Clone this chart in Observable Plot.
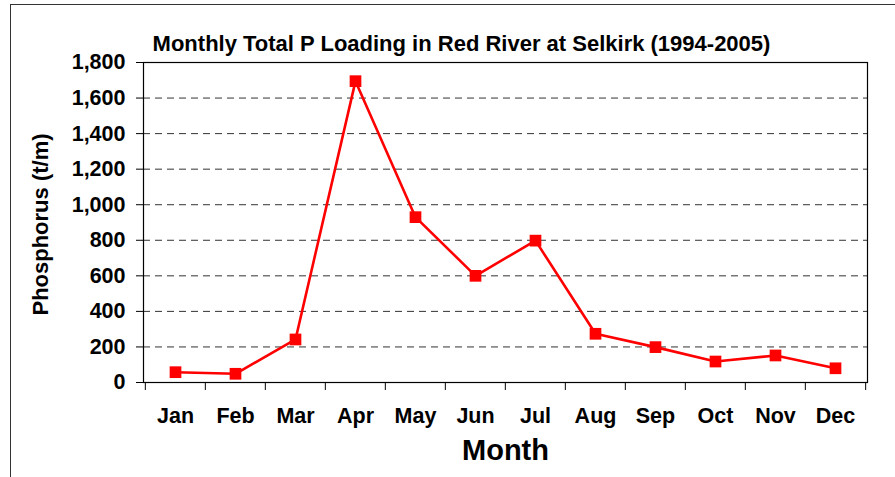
<!DOCTYPE html>
<html>
<head>
<meta charset="utf-8">
<script src="https://cdn.jsdelivr.net/npm/d3@7"></script>
<script src="https://cdn.jsdelivr.net/npm/@observablehq/plot@0.6"></script>
<style>
  html, body { margin: 0; padding: 0; background: #fff; overflow: hidden; }
  #wrap { position: relative; width: 895px; height: 477px; }
  #border { position: absolute; left: 10px; top: 4px; width: 940px; height: 520px; border: 1.5px solid #333; box-sizing: border-box; pointer-events: none; }
  #chart { position: absolute; left: 0; top: 0; }
</style>
</head>
<body>
<div id="wrap"><div id="chart"></div><div id="border"></div></div>
<script>
const title = "Monthly Total P Loading in Red River at Selkirk (1994-2005)";
const yLabel = "Phosphorus (t/m)";
const xLabel = "Month";
const months = ["Jan","Feb","Mar","Apr","May","Jun","Jul","Aug","Sep","Oct","Nov","Dec"];
const values = [58, 49, 242, 1695, 930, 600, 798, 274, 199, 118, 152, 80];
const yTicks = [0, 200, 400, 600, 800, 1000, 1200, 1400, 1600, 1800];
const gridValues = [200, 400, 600, 800, 1000, 1200, 1400, 1600];

const data = months.map((m, i) => ({month: m, value: values[i]}));

const W = 895, H = 477;
const mL = 143, mR = 28, mT = 62, mB = 95;
const band = (W - mL - mR) / months.length;
const font = "'Liberation Sans', Arial, sans-serif";

const chart = Plot.plot({
  width: W,
  height: H,
  marginLeft: mL,
  marginRight: mR,
  marginTop: mT,
  marginBottom: mB,
  style: {fontFamily: font, background: "transparent", overflow: "visible"},
  x: {type: "band", domain: months, padding: 0},
  y: {domain: [0, 1800]},
  marks: [
    Plot.ruleY(gridValues, {stroke: "#333", strokeWidth: 1, strokeDasharray: "7,5"}),
    Plot.frame({stroke: "#000", strokeWidth: 1.2}),
    Plot.axisY({ticks: yTicks, tickFormat: d3.format(","), tickSize: 7, tickPadding: 11, label: null,
      fontSize: 21.5, fontWeight: "bold", fill: "#000"}),
    Plot.axisX({tickSize: 0, tickPadding: 25, label: null, fontSize: 21.5, fontWeight: "bold", fill: "#000"}),
    Plot.ruleX(months, {x: d => d, y1: 0, y2: -45, dx: -band / 2, stroke: "#000", clip: false}),
    Plot.ruleX([months[months.length - 1]], {x: d => d, y1: 0, y2: -45, dx: band / 2, stroke: "#000", clip: false}),
    Plot.line(data, {x: "month", y: "value", stroke: "#ff0000", strokeWidth: 2.6}),
    Plot.dot(data, {x: "month", y: "value", symbol: "square", r: 6.6, fill: "#ff0000", stroke: "none"}),
    Plot.text([title], {text: d => d, frameAnchor: "top", dx: -44, dy: -27, fontSize: 22, fontWeight: "bold", fill: "#000"}),
    Plot.text([yLabel], {text: d => d, frameAnchor: "left", textAnchor: "middle", rotate: -90, dx: -103, dy: 2, fontSize: 22, fontWeight: "bold", fill: "#000"}),
    Plot.text([xLabel], {text: d => d, frameAnchor: "bottom", dy: 77, fontSize: 29, fontWeight: "bold", fill: "#000"})
  ]
});
document.getElementById("chart").appendChild(chart);
</script>
</body>
</html>
